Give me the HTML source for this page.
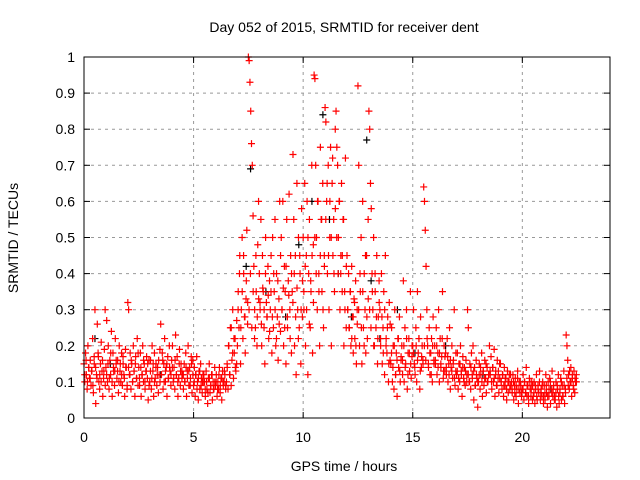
<!DOCTYPE html>
<html><head><meta charset="utf-8"><style>
body{margin:0;background:#fff;}
svg{display:block;font-family:"Liberation Sans",sans-serif;}
</style></head><body>
<svg id="chart" width="640" height="480" viewBox="0 0 640 480">
<rect width="640" height="480" fill="#fff"/>
<text x="344" y="32" font-size="14" text-anchor="middle">Day 052 of 2015, SRMTID for receiver dent</text>
<text x="344" y="471" font-size="14" text-anchor="middle">GPS time / hours</text>
<text transform="translate(18,238) rotate(-90)" font-size="14" text-anchor="middle">SRMTID / TECUs</text>
<g id="grid"></g>
<g id="ticks"></g>
<g id="black"></g>
<g id="red"></g>
<rect x="84" y="57" width="526" height="361" fill="none" stroke="#000" stroke-width="1"/>
</svg>
<script>
const xTicks=[0,5,10,15,20];
const yTicks=[0,0.1,0.2,0.3,0.4,0.5,0.6,0.7,0.8,0.9,1];
const yTickLabels=["0","0.1","0.2","0.3","0.4","0.5","0.6","0.7","0.8","0.9","1"];
const binStart=0, binWidth=0.5;
const redBins=[
[0.15,0.1,0.18,0.12,0.08,0.2,0.14,0.11,0.16,0.09,0.13,0.22,0.07,0.17],
[0.3,0.04,0.12,0.26,0.18,0.1,0.08,0.15,0.21,0.13,0.06,0.11,0.19,0.3],
[0.14,0.27,0.1,0.2,0.08,0.16,0.12,0.24,0.06,0.18,0.13,0.09,0.22,0.15],
[0.11,0.16,0.07,0.2,0.13,0.1,0.18,0.09,0.15,0.12,0.06,0.19,0.14,0.08],
[0.32,0.3,0.12,0.18,0.08,0.15,0.1,0.2,0.13,0.06,0.17,0.11,0.22,0.09],
[0.14,0.09,0.18,0.06,0.12,0.2,0.1,0.15,0.08,0.13,0.17,0.11,0.05,0.16],
[0.1,0.16,0.08,0.2,0.13,0.06,0.18,0.11,0.15,0.09,0.14,0.07,0.12,0.19],
[0.26,0.12,0.18,0.08,0.15,0.22,0.1,0.14,0.06,0.17,0.11,0.2,0.13,0.09],
[0.16,0.2,0.1,0.14,0.08,0.23,0.12,0.17,0.06,0.11,0.19,0.09,0.15,0.13],
[0.12,0.08,0.15,0.1,0.18,0.06,0.13,0.2,0.09,0.14,0.11,0.17,0.07,0.16],
[0.09,0.14,0.06,0.12,0.17,0.1,0.05,0.13,0.08,0.15,0.11,0.07,0.12,0.1],
[0.1,0.06,0.13,0.08,0.04,0.11,0.15,0.07,0.09,0.12,0.05,0.1,0.08,0.14],
[0.09,0.12,0.06,0.1,0.08,0.14,0.07,0.11,0.05,0.13,0.09,0.1,0.12,0.08],
[0.1,0.14,0.08,0.2,0.12,0.25,0.09,0.16,0.3,0.11,0.18,0.22,0.13,0.15],
[0.2,0.35,0.25,0.45,0.15,0.3,0.5,0.22,0.4,0.28,0.18,0.33,0.52,0.26],
[1.0,0.99,0.93,0.85,0.76,0.7,0.56,0.42,0.3,0.25,0.35,0.2,0.48,0.6],
[0.4,0.3,0.55,0.2,0.45,0.35,0.25,0.15,0.5,0.32,0.28,0.42,0.22,0.38],
[0.3,0.45,0.18,0.5,0.25,0.35,0.55,0.2,0.4,0.28,0.16,0.33,0.6,0.24],
[0.5,0.3,0.6,0.2,0.42,0.35,0.15,0.55,0.25,0.38,0.62,0.3,0.45,0.18],
[0.35,0.73,0.55,0.2,0.45,0.12,0.65,0.3,0.5,0.25,0.4,0.15,0.58,0.28],
[0.5,0.3,0.65,0.2,0.45,0.6,0.12,0.4,0.55,0.25,0.35,0.7,0.18,0.48],
[0.95,0.94,0.7,0.5,0.3,0.6,0.4,0.2,0.75,0.55,0.35,0.65,0.25,0.45],
[0.86,0.82,0.6,0.4,0.7,0.3,0.5,0.75,0.2,0.65,0.45,0.55,0.35,0.8],
[0.85,0.75,0.7,0.5,0.6,0.3,0.4,0.65,0.45,0.55,0.2,0.35,0.72,0.25],
[0.45,0.3,0.4,0.25,0.35,0.2,0.42,0.28,0.18,0.33,0.22,0.38,0.15,0.3],
[0.92,0.7,0.2,0.35,0.5,0.15,0.6,0.25,0.4,0.3,0.18,0.45,0.22,0.55],
[0.85,0.8,0.65,0.58,0.4,0.3,0.5,0.2,0.35,0.25,0.45,0.15,0.28,0.38],
[0.3,0.2,0.4,0.15,0.25,0.35,0.12,0.45,0.22,0.18,0.28,0.1,0.32,0.16],
[0.15,0.25,0.1,0.2,0.08,0.3,0.12,0.18,0.06,0.22,0.14,0.28,0.1,0.16],
[0.2,0.12,0.38,0.1,0.25,0.15,0.3,0.08,0.18,0.22,0.13,0.35,0.11,0.17],
[0.2,0.3,0.15,0.12,0.25,0.1,0.35,0.18,0.22,0.08,0.28,0.14,0.2,0.16],
[0.64,0.6,0.52,0.42,0.3,0.2,0.15,0.25,0.12,0.18,0.22,0.1,0.28,0.16],
[0.2,0.15,0.25,0.12,0.18,0.3,0.1,0.22,0.14,0.17,0.35,0.11,0.2,0.13],
[0.18,0.12,0.22,0.1,0.15,0.25,0.08,0.14,0.2,0.11,0.16,0.3,0.09,0.13],
[0.12,0.18,0.08,0.15,0.1,0.2,0.13,0.06,0.17,0.11,0.14,0.09,0.16,0.1],
[0.3,0.25,0.1,0.15,0.08,0.18,0.12,0.2,0.05,0.14,0.09,0.16,0.11,0.03],
[0.1,0.15,0.08,0.12,0.18,0.06,0.13,0.09,0.16,0.11,0.07,0.14,0.1,0.12],
[0.2,0.12,0.17,0.08,0.14,0.1,0.19,0.06,0.13,0.09,0.16,0.11,0.07,0.15],
[0.15,0.1,0.08,0.12,0.06,0.14,0.09,0.11,0.05,0.13,0.07,0.1,0.08,0.12],
[0.1,0.07,0.12,0.05,0.09,0.11,0.06,0.08,0.13,0.04,0.1,0.07,0.09,0.06],
[0.08,0.12,0.05,0.1,0.07,0.14,0.06,0.09,0.04,0.11,0.08,0.06,0.1,0.05],
[0.06,0.1,0.04,0.08,0.12,0.05,0.09,0.07,0.13,0.05,0.08,0.06,0.1,0.04],
[0.09,0.05,0.12,0.07,0.03,0.1,0.06,0.11,0.04,0.08,0.13,0.06,0.09,0.05],
[0.05,0.1,0.03,0.08,0.12,0.04,0.07,0.11,0.05,0.09,0.06,0.13,0.04,0.08],
[0.23,0.2,0.16,0.12,0.08,0.1,0.14,0.06,0.11,0.09,0.13,0.07,0.1,0.12]
];
const redBins2=[
[0.12,0.16,0.1,0.14,0.11,0.13,0.09,0.15],
[0.14,0.11,0.17,0.12,0.1,0.16,0.13,0.09],
[0.12,0.15,0.11,0.18,0.1,0.14,0.13,0.16],
[0.13,0.1,0.15,0.12,0.17,0.11,0.14,0.09],
[0.14,0.12,0.16,0.1,0.13,0.15,0.11,0.18],
[0.11,0.14,0.12,0.16,0.1,0.13,0.15,0.09],
[0.13,0.11,0.15,0.1,0.14,0.12,0.16,0.1],
[0.12,0.16,0.1,0.13,0.15,0.11,0.14,0.12],
[0.14,0.11,0.16,0.12,0.1,0.15,0.13,0.11],
[0.12,0.1,0.14,0.11,0.13,0.09,0.15,0.12],
[0.1,0.12,0.08,0.11,0.13,0.09,0.1,0.12],
[0.08,0.1,0.07,0.11,0.09,0.12,0.08,0.1],
[0.1,0.08,0.12,0.09,0.11,0.1,0.13,0.09],
[0.15,0.2,0.12,0.25,0.18,0.22,0.14,0.27],
[0.3,0.4,0.25,0.35,0.45,0.28,0.38,0.32],
[0.3,0.4,0.25,0.35,0.22,0.45,0.28,0.33],
[0.32,0.26,0.36,0.3,0.4,0.28,0.34,0.24],
[0.35,0.28,0.4,0.3,0.22,0.38,0.26,0.45],
[0.3,0.36,0.25,0.42,0.28,0.34,0.22,0.4],
[0.32,0.4,0.28,0.36,0.22,0.45,0.3,0.38],
[0.35,0.42,0.3,0.5,0.26,0.38,0.45,0.32],
[0.5,0.4,0.6,0.35,0.45,0.55,0.3,0.42],
[0.55,0.65,0.45,0.6,0.5,0.72,0.4,0.58],
[0.5,0.4,0.6,0.45,0.35,0.55,0.3,0.42],
[0.3,0.25,0.35,0.22,0.28,0.32,0.2,0.26],
[0.3,0.4,0.25,0.35,0.2,0.45,0.28,0.33],
[0.3,0.25,0.35,0.2,0.4,0.28,0.22,0.32],
[0.22,0.28,0.18,0.3,0.2,0.25,0.15,0.26],
[0.18,0.14,0.2,0.12,0.16,0.22,0.13,0.17],
[0.16,0.2,0.14,0.22,0.12,0.18,0.15,0.2],
[0.18,0.14,0.2,0.16,0.22,0.13,0.17,0.15],
[0.2,0.16,0.22,0.14,0.18,0.12,0.2,0.15],
[0.16,0.2,0.14,0.18,0.15,0.22,0.13,0.17],
[0.14,0.17,0.12,0.16,0.13,0.15,0.11,0.18],
[0.13,0.11,0.15,0.12,0.14,0.1,0.13,0.12],
[0.12,0.1,0.14,0.11,0.13,0.09,0.12,0.1],
[0.12,0.14,0.1,0.13,0.11,0.15,0.1,0.12],
[0.13,0.1,0.14,0.11,0.12,0.09,0.13,0.11],
[0.1,0.12,0.09,0.11,0.08,0.1,0.12,0.09],
[0.08,0.1,0.07,0.09,0.11,0.08,0.1,0.07],
[0.08,0.1,0.07,0.09,0.06,0.1,0.08,0.09],
[0.07,0.09,0.06,0.08,0.1,0.07,0.09,0.06],
[0.07,0.09,0.06,0.08,0.1,0.07,0.08,0.06],
[0.07,0.09,0.06,0.08,0.1,0.06,0.09,0.07],
[0.11,0.09,0.13,0.1,0.12,0.08,0.11,0.1]
];
const blackT=[0.5,1.2,3.5,7.4,7.6,8.3,9.2,9.8,10.4,10.9,11.2,11.6,12.2,12.9,13.1,13.5,14.3,15.1,16.5,18.2,21.3];
const blackV=[0.22,0.15,0.12,0.42,0.69,0.35,0.28,0.48,0.6,0.84,0.55,0.4,0.28,0.77,0.38,0.22,0.3,0.18,0.2,0.12,0.08];

const X0=84,X1=610,Y0=418,Y1=57,XMAX=24;
const xs=t=>X0+t/XMAX*(X1-X0);
const ys=v=>Y0-v*(Y0-Y1);
const NS="http://www.w3.org/2000/svg";
const grid=document.getElementById('grid'),ticks=document.getElementById('ticks');
function mk(tag,attrs,parent){const e=document.createElementNS(NS,tag);for(const k in attrs)e.setAttribute(k,attrs[k]);parent.appendChild(e);return e;}
yTicks.forEach((v,i)=>{
  const y=ys(v);
  if(i>0&&i<yTicks.length-1){const g=mk('line',{x1:X0,x2:X1,y1:y,y2:y,stroke:'#999','stroke-dasharray':'3,4'},grid);}
  const t=mk('line',{x1:X0,x2:X0+6,y1:y,y2:y,stroke:'#000'},ticks);
  const t2=mk('line',{x1:X1-6,x2:X1,y1:y,y2:y,stroke:'#000'},ticks);
  const l=mk('text',{x:X0-9,y:y+5,'font-size':'14','text-anchor':'end'},ticks);l.textContent=yTickLabels[i];
  
  
});
xTicks.forEach(v=>{
  const x=xs(v);
  if(v>0){const g=mk('line',{x1:x,x2:x,y1:Y0,y2:Y1,stroke:'#999','stroke-dasharray':'3,4'},grid);}
  const t=mk('line',{x1:x,x2:x,y1:Y0,y2:Y0-6,stroke:'#000'},ticks);
  const t2=mk('line',{x1:x,x2:x,y1:Y1,y2:Y1+6,stroke:'#000'},ticks);
  const l=mk('text',{x:x,y:Y0+24,'font-size':'14','text-anchor':'middle'},ticks);l.textContent=String(v);
  
  
});
function plus(g,t,v,c){
  const x=xs(t),y=ys(v);
  const p=mk('path',{d:`M${x-3.5},${y}H${x+3.5}M${x},${y-3.5}V${y+3.5}`,stroke:c,'stroke-width':'1.2',fill:'none'},g);
  
  
}
const bg=document.getElementById('black'),rg=document.getElementById('red');
blackT.forEach((t,i)=>plus(bg,t,blackV[i],'#000'));
redBins.forEach((bin,b)=>{bin.forEach((v,i)=>{plus(rg,binStart+b*binWidth+i*binWidth/bin.length,v,'#f00');});});
redBins2.forEach((bin,b)=>{bin.forEach((v,i)=>{plus(rg,binStart+b*binWidth+(i+0.5)*binWidth/bin.length,v,'#f00');});});
</script>
</body></html>
